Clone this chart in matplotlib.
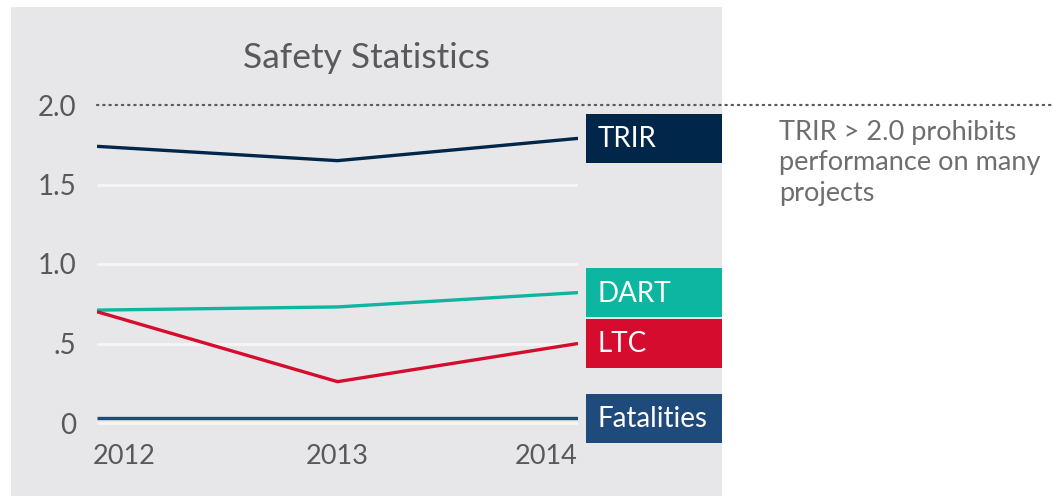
import matplotlib.pyplot as plt
from matplotlib.patches import Rectangle
from matplotlib.transforms import ScaledTranslation

plt.rcParams['font.family'] = ['Lato', 'DejaVu Sans']

# data
years = [2012, 2013, 2014]
trir = [1.74, 1.65, 1.79]
dart = [0.71, 0.73, 0.82]
ltc = [0.70, 0.26, 0.50]
fatalities = [0.03, 0.03, 0.03]
series_names = ['TRIR', 'DART', 'LTC', 'Fatalities']
series_colors = ['#00264A', '#0DB6A0', '#D50C2E', '#1F4A7C']
y_ticks = [0, 0.5, 1.0, 1.5, 2.0]
y_tick_labels = ['0', '.5', '1.0', '1.5', '2.0']
threshold = 2.0
note = 'TRIR > 2.0 prohibits\nperformance on many\nprojects'

W, H = 1053, 496
fig = plt.figure(figsize=(W / 100, H / 100), dpi=100)
fig.patch.set_facecolor('white')

# grey panel behind the chart
fig.patches.append(Rectangle((11 / W, 0), 711 / W, 489 / H, transform=fig.transFigure,
                             facecolor='#E7E7E9', edgecolor='none', zorder=-5))

# axes placed so that 2012..2014 spans x=97..578 px and 0..2 spans 423..105 px
ax = fig.add_axes([97 / W, (73 - 0.1 * 159) / H, 481 / W, 2.2 * 159 / H])
ax.set_zorder(1)
ax.set_xlim(2012, 2014)
ax.set_ylim(-0.1, 2.1)
ax.patch.set_alpha(0)
for s in ax.spines.values():
    s.set_visible(False)

# light gridlines
ax.hlines(y_ticks[:-1], 2012, 2014, colors='#F5F5F6', lw=2.0, zorder=1)
# dotted threshold line, running off to the right edge
ax.axhline(threshold, xmin=0, xmax=(W - 97) / 481, color='#58595B', lw=1.6,
           linestyle=(0, (0.6, 2.2)), dash_capstyle='round', clip_on=False, zorder=2)

all_series = [trir, dart, ltc, fatalities]
for vals, name, col in zip(all_series, series_names, series_colors):
    ax.plot(years, vals, color=col, lw=2.4, zorder=3, solid_capstyle='butt')
    # end label box anchored at the last point (sizes in inches)
    tr = fig.dpi_scale_trans + ScaledTranslation(years[-1], vals[-1], ax.transData)
    ax.add_patch(Rectangle((0.08, -0.245), 1.36, 0.49, transform=tr, facecolor=col,
                           edgecolor='none', clip_on=False, zorder=4))
    ax.text(0.20, -0.01, name, transform=tr, color='white', fontsize=20,
            va='center', ha='left', zorder=5)

# y tick labels
ax.set_yticks(y_ticks)
ax.set_yticklabels(y_tick_labels)
ax.tick_params(axis='y', length=0, pad=15, labelsize=20, labelcolor='#58595B')
# x tick labels
ax.set_xticks(years)
ax.set_xticklabels([str(y) for y in years])
ax.tick_params(axis='x', length=0, pad=4, labelsize=19.5, labelcolor='#58595B')
xl = ax.get_xticklabels()
xl[0].set_ha('left')
xl[-1].set_ha('right')
shift = ScaledTranslation(-0.04, 0, fig.dpi_scale_trans)
xl[0].set_transform(xl[0].get_transform() + shift)

fig.text(366 / W, 1 - 58 / H, 'Safety Statistics', ha='center', va='center',
         fontsize=25.5, color='#58595B')

fig.text(779 / W, 1 - 120 / H, note, ha='left', va='top', fontsize=19.5,
         color='#6D6E71', linespacing=1.27)

fig.savefig('out.png', dpi=100, facecolor='white')
